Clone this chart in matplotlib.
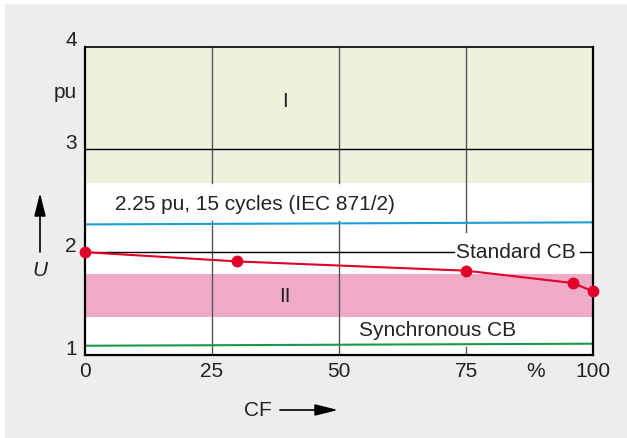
import matplotlib

matplotlib.use("Agg")
import matplotlib.pyplot as plt
from matplotlib.patches import Rectangle

# values
cf_ticks = [0, 25, 50, 75, 100]
u_ticks = [1, 2, 3, 4]
standard_cf = [0, 30, 75, 96, 100]
standard_u = [2.0, 1.91, 1.82, 1.70, 1.62]
iec_cf = [0, 100]
iec_u = [2.27, 2.29]
sync_cf = [0, 100]
sync_u = [1.09, 1.11]
region_i = (2.67, 4.0)
region_ii = (1.37, 1.79)
standard_level = 2.0

plt.rcParams["font.family"] = ["Liberation Sans", "DejaVu Sans"]
FS = 15

fig = plt.figure(figsize=(6.27, 4.38), dpi=100, facecolor="white")
fig.patches.append(Rectangle((5 / 627, 1 / 438), 622 / 627, 433 / 438,
                             transform=fig.transFigure, color="#edeeeb", zorder=-5))
ax = fig.add_axes([85 / 627, 83 / 438, 508 / 627, 308.5 / 438])
ax.set_xlim(0, 100)
ax.set_ylim(1, 4)
ax.set_facecolor("white")

# shaded regions
ax.axhspan(*region_i, color="#eef2dc", lw=0, zorder=0)
ax.axhspan(*region_ii, color="#efaac6", lw=0, zorder=0)

# grid lines
grid = dict(color="#555555", lw=1.0, zorder=1)
for x in cf_ticks[1:3]:
    ax.plot([x, x], [region_i[0], 4], **grid)
    ax.plot([x, x], [1, 2.30], **grid)
ax.plot([75, 75], [2.2, 4], **grid)
ax.plot([75, 75], [1, 1.08], **grid)
ax.plot([0, 100], [3, 3], color="black", lw=1.0, zorder=1)
ax.plot([0, 72.6], [standard_level] * 2, color="black", lw=1.0, zorder=1)
ax.plot([97.4, 100], [standard_level] * 2, color="black", lw=1.0, zorder=1)

# curves
ax.plot(iec_cf, iec_u, color="#1c9fd8", lw=1.5, zorder=2)
ax.plot(sync_cf, sync_u, color="#1a9a46", lw=1.5, zorder=2)
ax.plot(standard_cf, standard_u, color="#e0002a", lw=1.5, marker="o",
        ms=7.5, clip_on=False, zorder=3)

# labels inside the plot
ax.text(39.4, 3.47, "I", ha="center", va="center", fontsize=FS, color="#222222")
ax.text(39.4, 1.57, "II", ha="center", va="center", fontsize=FS, color="#222222")
ax.text(5.9, 2.46, "2.25 pu, 15 cycles (IEC 871/2)", ha="left", va="center",
        fontsize=FS, color="#222222")
ax.text(73.0, standard_level, "Standard CB", ha="left", va="center",
        fontsize=FS, color="#222222")
ax.text(54, 1.235, "Synchronous CB", ha="left", va="center",
        fontsize=FS, color="#222222")

# axes frame and tick labels
for side in ["left", "bottom", "right"]:
    ax.spines[side].set_linewidth(1.6)
ax.spines["top"].set_linewidth(1.2)
ax.set_xticks([])
ax.set_yticks([])
for v in u_ticks:
    ax.annotate(str(v), xy=(0, v), xycoords=("axes fraction", "data"),
                xytext=(-6, 4), textcoords="offset points",
                ha="right", va="center", fontsize=FS, color="#222222")
ax.annotate("pu", xy=(0, 3.5), xycoords=("axes fraction", "data"),
            xytext=(-6, 4), textcoords="offset points",
            ha="right", va="center", fontsize=FS, color="#222222")
for c in cf_ticks:
    ax.annotate(str(c), xy=(c, 0), xycoords=("data", "axes fraction"),
                xytext=(0, -5), textcoords="offset points",
                ha="center", va="top", fontsize=FS, color="#222222")
ax.annotate("%", xy=(88.6, 0), xycoords=("data", "axes fraction"),
            xytext=(0, -5), textcoords="offset points",
            ha="center", va="top", fontsize=FS, color="#222222")

# axis names with arrows
arrow = dict(arrowstyle="-|>,head_length=1.0,head_width=0.25", color="black",
             lw=1.2, mutation_scale=14, shrinkA=0, shrinkB=0)
fig.text(40 / 627, 168 / 438, "U", ha="center", va="center", fontsize=FS,
         style="italic", color="#222222")
ax.annotate("", xy=(40, 245), xycoords="figure pixels",
            xytext=(40, 186), textcoords="figure pixels", arrowprops=arrow,
            annotation_clip=False)
fig.text(258 / 627, 28 / 438, "CF", ha="center", va="center", fontsize=FS,
         color="#222222")
ax.annotate("", xy=(338, 28), xycoords="figure pixels",
            xytext=(280, 28), textcoords="figure pixels", arrowprops=arrow,
            annotation_clip=False)

fig.savefig("out.png", dpi=100, facecolor=fig.get_facecolor())
